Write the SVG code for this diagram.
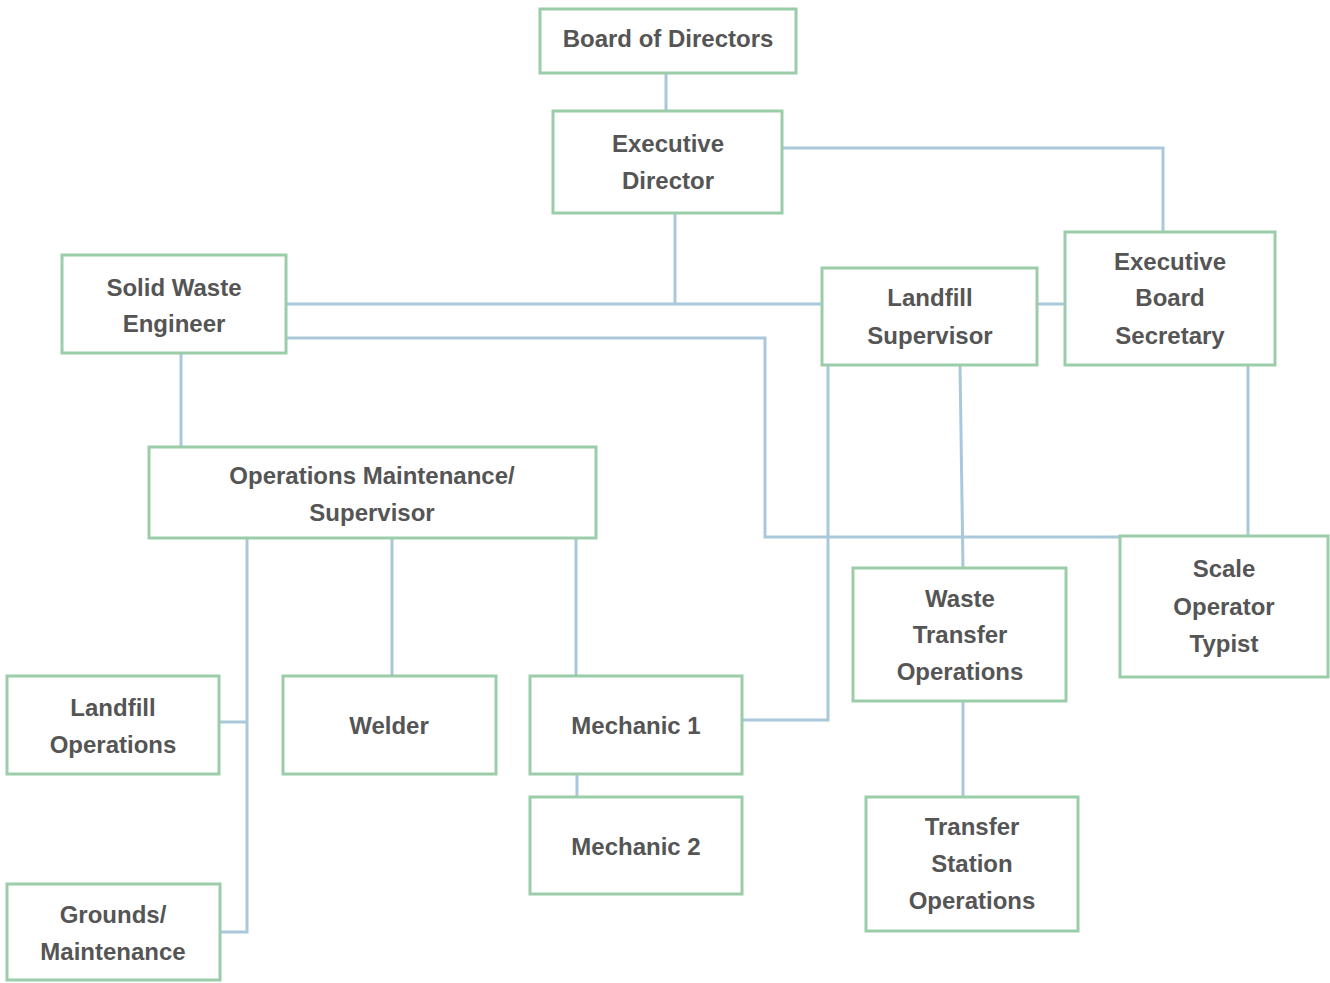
<svg xmlns="http://www.w3.org/2000/svg" width="1330" height="983" viewBox="0 0 1330 983">
<style>
.box{fill:#ffffff;stroke:#9ccdaa;stroke-width:3}
.t{font-family:"Liberation Sans",Arial,sans-serif;font-size:24px;font-weight:bold;fill:#555555;text-anchor:middle}
.c{fill:none;stroke:#a9c8da;stroke-width:3}
</style>
<rect width="1330" height="983" fill="#ffffff"/>
<g id="connectors">
<path class="c" d="M666 73V111"/>
<path class="c" d="M782 148H1163V232"/>
<path class="c" d="M675 213V304"/>
<path class="c" d="M286 304H822"/>
<path class="c" d="M1037 304H1065"/>
<path class="c" d="M286 338H765V537H1328"/>
<path class="c" d="M1248 365V537"/>
<path class="c" d="M960 365L963 568"/>
<path class="c" d="M828 365V720H742"/>
<path class="c" d="M181 353V447"/>
<path class="c" d="M247 538V932H220"/>
<path class="c" d="M247 722H219"/>
<path class="c" d="M392 538V676"/>
<path class="c" d="M576 538V676"/>
<path class="c" d="M577 774V797"/>
<path class="c" d="M963 701V797"/>
</g>
<g id="board"><rect class="box" x="540" y="9" width="256" height="64"/><text class="t" x="668" y="47">Board of Directors</text></g>
<g id="exec-director"><rect class="box" x="553" y="111" width="229" height="102"/><text class="t" x="668" y="152">Executive</text><text class="t" x="668" y="189">Director</text></g>
<g id="solid-waste-engineer"><rect class="box" x="62" y="255" width="224" height="98"/><text class="t" x="174" y="296">Solid Waste</text><text class="t" x="174" y="332">Engineer</text></g>
<g id="landfill-supervisor"><rect class="box" x="822" y="268" width="215" height="97"/><text class="t" x="930" y="306">Landfill</text><text class="t" x="930" y="344">Supervisor</text></g>
<g id="exec-board-secretary"><rect class="box" x="1065" y="232" width="210" height="133"/><text class="t" x="1170" y="270">Executive</text><text class="t" x="1170" y="306">Board</text><text class="t" x="1170" y="344">Secretary</text></g>
<g id="ops-maint-supervisor"><rect class="box" x="149" y="447" width="447" height="91"/><text class="t" x="372" y="484">Operations Maintenance/</text><text class="t" x="372" y="521">Supervisor</text></g>
<g id="scale-operator"><rect class="box" x="1120" y="536" width="208" height="141"/><text class="t" x="1224" y="577">Scale</text><text class="t" x="1224" y="615">Operator</text><text class="t" x="1224" y="652">Typist</text></g>
<g id="waste-transfer"><rect class="box" x="853" y="568" width="213" height="133"/><text class="t" x="960" y="607">Waste</text><text class="t" x="960" y="643">Transfer</text><text class="t" x="960" y="680">Operations</text></g>
<g id="landfill-operations"><rect class="box" x="7" y="676" width="212" height="98"/><text class="t" x="113" y="716">Landfill</text><text class="t" x="113" y="753">Operations</text></g>
<g id="welder"><rect class="box" x="283" y="676" width="213" height="98"/><text class="t" x="389" y="734">Welder</text></g>
<g id="mechanic1"><rect class="box" x="530" y="676" width="212" height="98"/><text class="t" x="636" y="734">Mechanic 1</text></g>
<g id="mechanic2"><rect class="box" x="530" y="797" width="212" height="97"/><text class="t" x="636" y="855">Mechanic 2</text></g>
<g id="transfer-station"><rect class="box" x="866" y="797" width="212" height="134"/><text class="t" x="972" y="835">Transfer</text><text class="t" x="972" y="872">Station</text><text class="t" x="972" y="909">Operations</text></g>
<g id="grounds"><rect class="box" x="7" y="884" width="213" height="96"/><text class="t" x="113" y="923">Grounds/</text><text class="t" x="113" y="960">Maintenance</text></g>
</svg>
